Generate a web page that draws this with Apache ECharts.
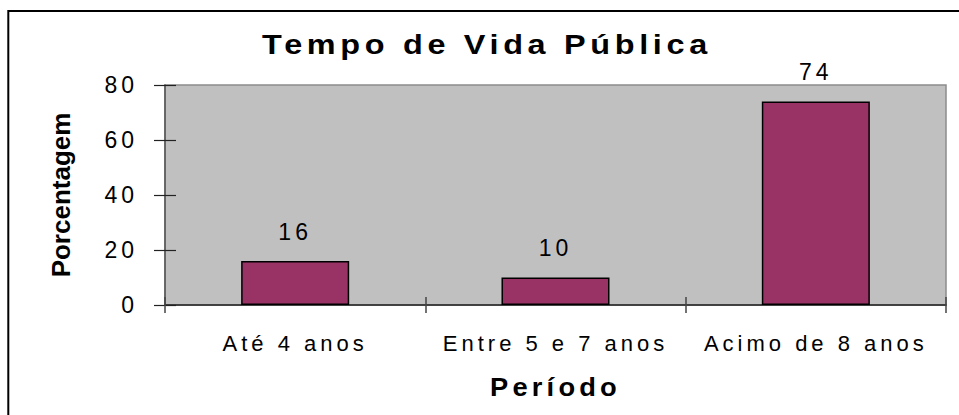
<!DOCTYPE html>
<html>
<head>
<meta charset="utf-8">
<script src="https://cdn.jsdelivr.net/npm/echarts@6/dist/echarts.min.js"></script>
<style>
html,body{margin:0;padding:0;background:#fff;}
#chart{width:959px;height:415px;}
</style>
</head>
<body>
<div id="chart"></div>
<script>
// ---- data ----
const titleText = 'Tempo de Vida Pública';
const xAxisName = 'Período';
const yAxisName = 'Porcentagem';
const categories = ['Até 4 anos', 'Entre 5 e 7 anos', 'Acimo de 8 anos'];
const values = [16, 10, 74];
const yTickValues = [0, 20, 40, 60, 80];

const FONT = "'Liberation Sans', Arial, Helvetica, sans-serif";
const yMin = yTickValues[0];
const yMax = yTickValues[yTickValues.length - 1];
const yInterval = yTickValues[1] - yTickValues[0];

const chart = echarts.init(document.getElementById('chart'), null, {renderer: 'svg'});

const option = {
  animation: false,
  backgroundColor: '#ffffff',
  title: {
    text: titleText,
    left: 487,
    top: 31,
    padding: 0,
    textAlign: 'center',
    textStyle: {fontFamily: FONT, fontSize: 27, fontWeight: 'bold', color: '#000'}
  },
  graphic: [{
    type: 'rect',
    silent: true,
    z: 100,
    shape: {x: 8.3, y: 11, width: 960, height: 420},
    style: {fill: 'none', stroke: '#000', lineWidth: 2}
  }],
  grid: {
    left: 165, right: 13, top: 85, bottom: 110,
    show: true,
    backgroundColor: '#c0c0c0',
    borderColor: '#8c8c8c',
    borderWidth: 1.5
  },
  xAxis: [{
    type: 'category',
    data: categories,
    name: xAxisName,
    nameLocation: 'middle',
    nameGap: 69,
    nameTextStyle: {fontFamily: FONT, fontSize: 26, fontWeight: 'bold', color: '#000'},
    axisLine: {show: true, lineStyle: {color: '#222', width: 1.5}},
    axisTick: {show: true, alignWithLabel: false, length: 8, lineStyle: {color: '#444', width: 1.5}},
    axisLabel: {fontFamily: FONT, fontSize: 22, color: '#000', margin: 27, interval: 0},
    splitLine: {show: false}
  }, {
    type: 'category',
    data: categories,
    position: 'bottom',
    axisLine: {show: false},
    axisTick: {show: true, inside: true, alignWithLabel: false, length: 8, lineStyle: {color: '#444', width: 1.5}},
    axisLabel: {show: false},
    splitLine: {show: false}
  }],
  yAxis: [{
    type: 'value',
    min: yMin, max: yMax, interval: yInterval,
    name: yAxisName,
    nameLocation: 'middle',
    nameGap: 91,
    nameRotate: 90,
    nameTextStyle: {fontFamily: FONT, fontSize: 26, fontWeight: 'bold', color: '#000'},
    axisLine: {show: true, lineStyle: {color: '#555', width: 1.5}},
    axisTick: {show: true, length: 11, lineStyle: {color: '#222', width: 1.2}},
    axisLabel: {fontFamily: FONT, fontSize: 23, color: '#000', margin: 27},
    splitLine: {show: false}
  }, {
    type: 'value',
    min: yMin, max: yMax, interval: yInterval,
    position: 'left',
    axisLine: {show: false},
    axisTick: {show: true, inside: true, length: 11, lineStyle: {color: '#222', width: 1.2}},
    axisLabel: {show: false},
    splitLine: {show: false}
  }],
  series: [{
    type: 'bar',
    data: values,
    xAxisIndex: 0,
    yAxisIndex: 0,
    barWidth: '41.5%',
    itemStyle: {color: '#993366', borderColor: '#000', borderWidth: 1.5},
    label: {
      show: true,
      position: 'top',
      distance: 18,
      fontFamily: FONT,
      fontSize: 23,
      color: '#000'
    }
  }]
};

chart.setOption(option);

// per-text letter spacing and horizontal stretch (visual only)
function styleFor(t) {
  if (t === titleText) return {s: 3.9, k: 1.2};
  if (t === xAxisName) return {s: 4.0, k: 1.05};
  if (t === yAxisName) return {s: 0, k: 1};
  return {s: 4, k: 1};
}
function applyTextStyle() {
  document.querySelectorAll('#chart svg text').forEach(function (el) {
    if (el.getAttribute('data-styled')) return;
    const st = styleFor(el.textContent);
    if (st.s) el.setAttribute('letter-spacing', st.s + 'px');
    if (st.k !== 1) {
      const ax = parseFloat(el.getAttribute('x') || '0') || 0;
      const orig = el.getAttribute('transform') || '';
      el.setAttribute('transform', (orig + ' translate(' + ax + ' 0) scale(' + st.k + ' 1) translate(' + (-ax) + ' 0)').trim());
    }
    el.setAttribute('data-styled', '1');
  });
}
chart.on('finished', applyTextStyle);
applyTextStyle();
setTimeout(applyTextStyle, 50);
</script>
</body>
</html>
